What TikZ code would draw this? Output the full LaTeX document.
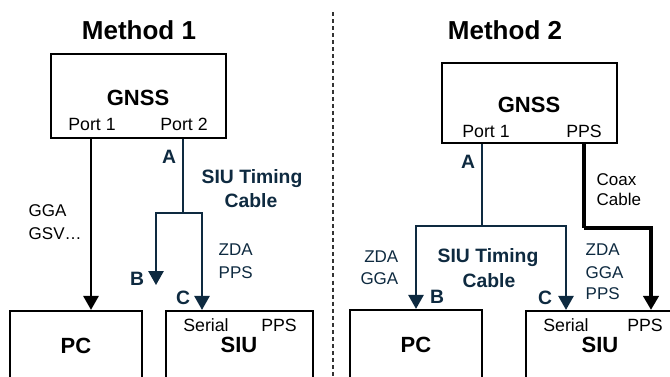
\documentclass[tikz,border=0pt]{standalone}
\usepackage{fontspec}
\setmainfont{Liberation Sans}
\usetikzlibrary{arrows.meta,fit}
\definecolor{navy}{RGB}{14,42,64}
\begin{document}
\begin{tikzpicture}[x=0.75pt,y=-0.75pt,
  box/.style={draw, line width=1.7pt, inner sep=0pt},
  title/.style={anchor=base, font=\bfseries\fontsize{19.5}{23}\selectfont},
  boxname/.style={anchor=base, font=\bfseries\fontsize{16.5}{20}\selectfont},
  port/.style={anchor=base, font=\fontsize{13.3}{16}\selectfont},
  sig/.style={anchor=base west, font=\fontsize{12.75}{15}\selectfont},
  sigr/.style={anchor=base east, font=\fontsize{12.75}{15}\selectfont},
  cablelbl/.style={anchor=base, text=navy, font=\bfseries\fontsize{14.5}{17}\selectfont},
  tip/.style={-{Triangle[width=11.5pt,length=10.5pt]}},
  blackline/.style={line width=1.6pt, black},
  navyline/.style={line width=1.3pt, navy},
  coaxline/.style={line width=2.4pt, black},
  divider/.style={line width=1.9pt, black!80, dash pattern=on 3pt off 2.3pt}]

\fill[white] (0,0) rectangle (670,376);
\useasboundingbox (0,0) rectangle (670,376);
\clip (0,0) rectangle (670,376);

% ---------------- Method 1 ----------------
\node[title] (m1title) at (139,39) {Method 1};

\node[box, fit={(51,54) (226,138)}] (m1gnss) {};
\node[boxname] (m1gnsslbl) at (138,105) {GNSS};
\node[port] (m1port1) at (92,130) {Port 1};
\node[port] (m1port2) at (184,130) {Port 2};

\node[box, fit={(10,311) (142,420)}] (m1pc) {};
\node[boxname] (m1pclbl) at (76,353) {PC};

\node[box, fit={(166,311) (313,420)}] (m1siu) {};
\node[port] (m1serial) at (206,331) {Serial};
\node[port] (m1pps) at (279,331) {PPS};
\node[boxname] (m1siulbl) at (239,352) {SIU};

% connector x positions and the cable split point
\coordinate (m1p1x) at (91,0);
\coordinate (m1split) at (183,213);
\coordinate (m1btip) at (156,285);
\coordinate (m1cx) at (202,0);

% Port 1 to PC
\draw[blackline, tip] (m1gnss.south -| m1p1x) -- (m1pc.north -| m1p1x);
% SIU timing cable from Port 2
\draw[navyline] (m1gnss.south -| m1split) -- (m1split);
\draw[navyline, tip] (m1split) -| (m1btip);
\draw[navyline, tip] (m1split) -| (m1siu.north -| m1cx);

\node[cablelbl] (m1a) at (169,163) {A};
\node[cablelbl] (m1b) at (137,285) {B};
\node[cablelbl] (m1c) at (183,304) {C};
\node[cablelbl] (m1cab1) at (252,183) {SIU Timing};
\node[cablelbl] (m1cab2) at (251,207) {Cable};

\node[sig] (m1gga) at (24,216) {GGA};
\node[sig] (m1gsv) at (24,239) {GSV…};
\node[sig, text=navy] (m1zda) at (214,255) {ZDA};
\node[sig, text=navy] (m1ppssig) at (214,278) {PPS};

% divider between the two methods
\coordinate (divtop) at (333,12);
\coordinate (divbot) at (333,380);
\draw[divider] (divtop) -- (divbot);

% ---------------- Method 2 ----------------
\node[title] (m2title) at (505,39) {Method 2};

\node[box, fit={(442,63) (617,143)}] (m2gnss) {};
\node[boxname] (m2gnsslbl) at (529,112) {GNSS};
\node[port] (m2port1) at (486,137) {Port 1};
\node[port] (m2ppsport) at (584,137) {PPS};

\node[box, fit={(350,310) (482,420)}] (m2pc) {};
\node[boxname] (m2pclbl) at (416,352) {PC};

\node[box, fit={(526,311) (720,420)}] (m2siu) {};
\node[port] (m2serial) at (566,331) {Serial};
\node[port] (m2pps) at (645,331) {PPS};
\node[boxname] (m2siulbl) at (600,352) {SIU};

\coordinate (m2split) at (482,226);
\coordinate (m2bx) at (416,0);
\coordinate (m2cx) at (566,0);
\coordinate (m2coaxx) at (584,0);
\coordinate (m2bend) at (584,228);
\coordinate (m2ppsx) at (651,0);

% SIU timing cable from Port 1
\draw[navyline] (m2gnss.south -| m2split) -- (m2split);
\draw[navyline, tip] (m2split) -| (m2pc.north -| m2bx);
\draw[navyline, tip] (m2split) -| (m2siu.north -| m2cx);
% coax cable from PPS
\draw[coaxline] (m2gnss.south -| m2coaxx) -- (m2bend);
\draw[coaxline, tip] (m2bend) -| (m2siu.north -| m2ppsx);

\node[cablelbl] (m2a) at (468,168) {A};
\node[cablelbl] (m2b) at (437,303) {B};
\node[cablelbl] (m2c) at (545,304) {C};
\node[cablelbl] (m2cab1) at (488,262) {SIU Timing};
\node[cablelbl] (m2cab2) at (489,287) {Cable};

\node[sig] (m2coax) at (592,185) {Coax};
\node[sig] (m2cable) at (592,205) {Cable};

\node[sigr, text=navy] (m2zdal) at (403,262) {ZDA};
\node[sigr, text=navy] (m2ggal) at (403,284) {GGA};

\node[sig, text=navy] (m2zdar) at (581,255) {ZDA};
\node[sig, text=navy] (m2ggar) at (581,278) {GGA};
\node[sig, text=navy] (m2ppsr) at (581,299) {PPS};

\end{tikzpicture}
\end{document}
